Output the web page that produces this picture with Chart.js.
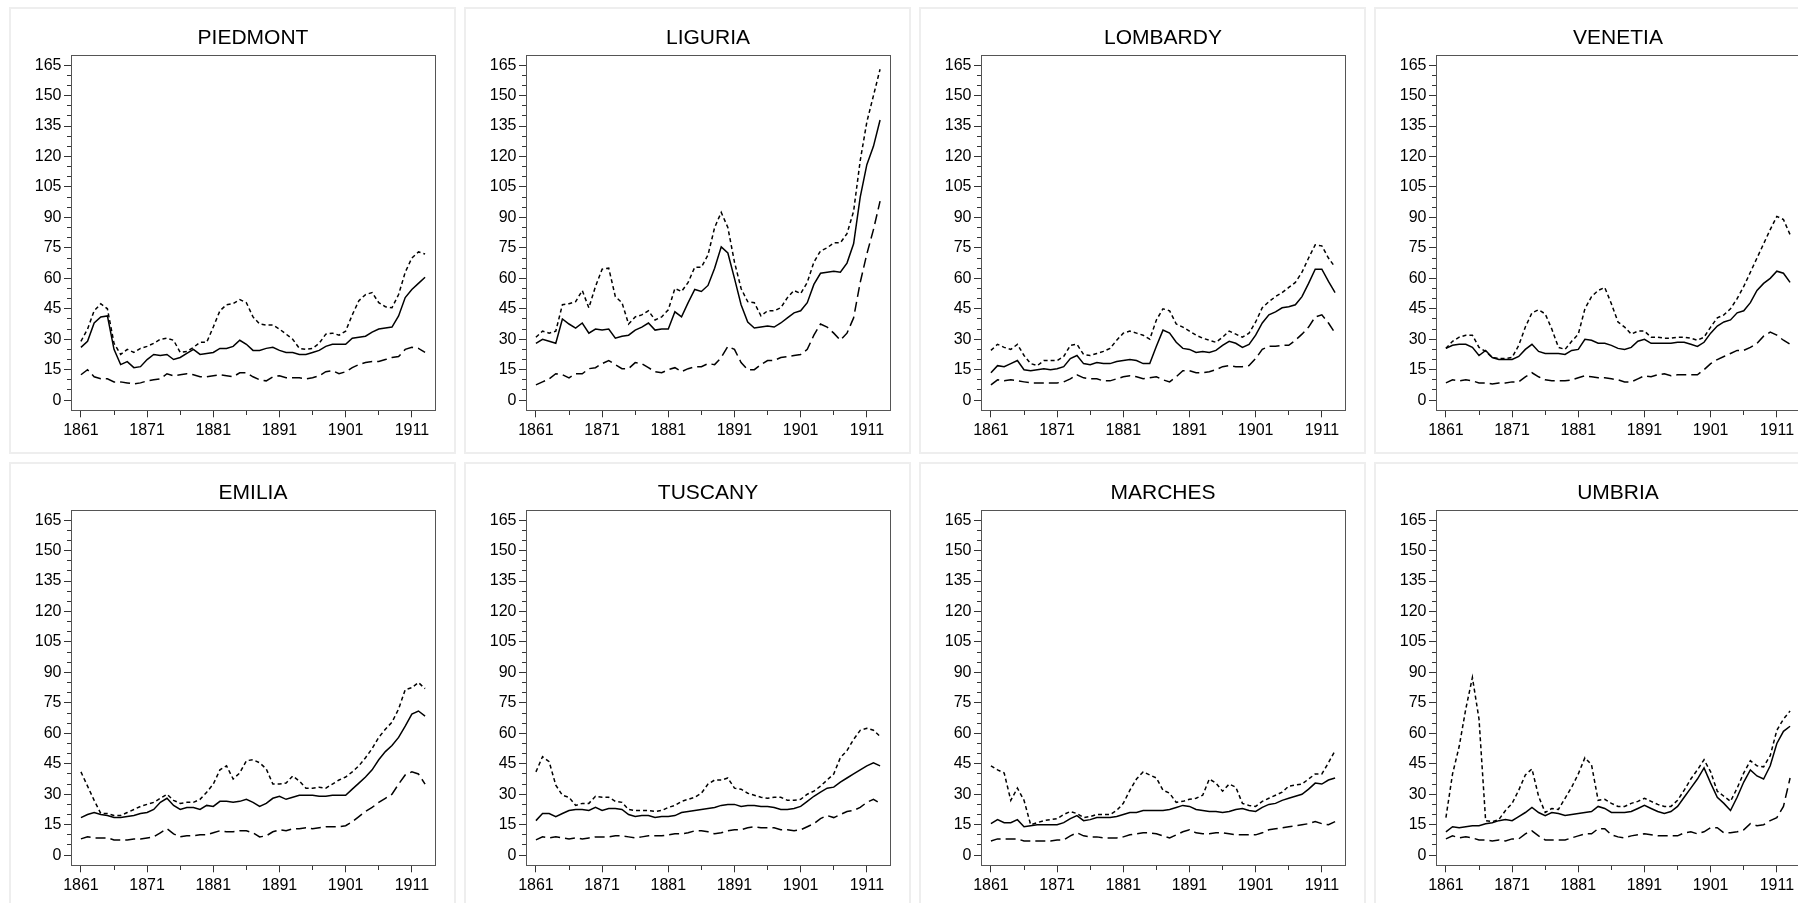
<!DOCTYPE html>
<html>
<head>
<meta charset="utf-8">
<title>Regional series 1861-1913</title>
<script src="https://cdn.jsdelivr.net/npm/chart.js@4/dist/chart.umd.min.js"></script>
<style>
  html, body { margin: 0; background: #fff; overflow: hidden; width: 1798px; height: 903px; }
  .card { position: absolute; width: 447px; height: 447px; box-sizing: border-box;
          border: 2px solid #eeeeee; background: #fff; }
  .card canvas { display: block; }
</style>
</head>
<body>
<div id="grid"></div>
<script>
// years on the x axis
const years = [
  1861, 1862, 1863, 1864, 1865, 1866, 1867, 1868, 1869, 1870,
  1871, 1872, 1873, 1874, 1875, 1876, 1877, 1878, 1879, 1880,
  1881, 1882, 1883, 1884, 1885, 1886, 1887, 1888, 1889, 1890,
  1891, 1892, 1893, 1894, 1895, 1896, 1897, 1898, 1899, 1900,
  1901, 1902, 1903, 1904, 1905, 1906, 1907, 1908, 1909, 1910,
  1911, 1912, 1913
];

// tick labels and minor tick positions
const xLabelYears = [1861, 1871, 1881, 1891, 1901, 1911];
const xMinorYears = [1866, 1876, 1886, 1896, 1906];
const yLabelValues = [0, 15, 30, 45, 60, 75, 90, 105, 120, 135, 150, 165];
const yMinorValues = [5, 10, 20, 25, 35, 40, 50, 55, 65, 70, 80, 85, 95, 100,
                      110, 115, 125, 130, 140, 145, 155, 160];

// --- series (solid / short dash / long dash) ---
const piedmontSolid = [26, 29, 38, 41, 41.5, 25, 17.5, 19, 16, 16.5,
  20, 22.5, 22, 22.5, 20, 21, 23, 25, 22.5, 23,
  23.5, 25.5, 25.5, 26.5, 29.5, 27.5, 24.5, 24.5, 25.5, 26,
  24.5, 23.5, 23.5, 22.5, 22.5, 23.5, 24.5, 26.5, 27.5, 27.5,
  27.5, 30.5, 31, 31.5, 33.5, 35, 35.5, 36, 41.5, 50.5,
  54.5, 57.5, 60.5];
const piedmontShort = [29, 35, 44, 47.5, 45, 28, 22.5, 25, 23.5, 25.5,
  26.5, 28, 30, 30.5, 29.5, 23.5, 24, 26, 28.5, 28.5,
  36, 44, 47, 47.5, 49.5, 48, 41, 37.5, 37, 37,
  35, 32.5, 30, 25.5, 25, 25.5, 28, 32.5, 33, 32,
  34, 42, 49, 52, 53, 48, 46, 45.5, 52, 63,
  70, 73, 72];
const piedmontLong = [12.5, 15, 11.5, 10.5, 10.5, 9, 9, 8.5, 8, 8.5,
  9.5, 10, 10.5, 13, 12, 12.5, 13, 12.5, 11.5, 11.5,
  12, 12.5, 12, 11.5, 13.5, 13.5, 11.5, 10, 9.5, 11.5,
  12, 11, 11, 11, 10.5, 11, 12, 14, 14.5, 13,
  14, 16, 17.5, 18.5, 19, 19, 20, 21, 21.5, 25,
  26, 25.5, 23.5];

const liguriaSolid = [28, 30, 29, 28, 40, 37.5, 35.5, 38, 33, 35,
  34.5, 35, 30.5, 31.5, 32, 34.5, 36, 38, 34.5, 35,
  35, 43.5, 41, 48, 54.5, 53.5, 56.5, 65, 75.5, 72.5,
  60, 47, 38.5, 35.5, 36, 36.5, 36, 38, 40.5, 43,
  44, 48, 57, 62.5, 63, 63.5, 63, 67.5, 77, 100,
  116, 125, 138];
const liguriaShort = [31, 34, 33, 34, 47, 47.5, 48.5, 54, 45.5, 56,
  64.5, 65, 51, 48, 37.5, 41, 42, 44, 39.5, 41,
  44.5, 55, 53.5, 58, 65.5, 65.5, 71.5, 85, 92.5, 85,
  68, 55, 48.5, 48, 41.5, 44, 44, 45.5, 50.5, 54,
  52.5, 58, 68, 73.5, 75, 77.5, 77.5, 82, 93, 118,
  137, 150, 163];
const liguriaLong = [7.5, 9, 10.5, 13, 12.5, 11, 13, 13, 15.5, 16,
  18, 19.5, 17.5, 15.5, 15.5, 18.5, 18, 16, 14, 13.5,
  15, 16, 14, 15.5, 16.5, 16.5, 18, 17.5, 21, 26.5,
  25, 18.5, 15, 15, 17.5, 19.5, 19.5, 21, 21.5, 22,
  22.5, 25, 32, 37.5, 36, 33, 29.5, 33, 40.5, 58,
  72, 84, 98];

const lombardySolid = [13.5, 17, 16.5, 18, 19.5, 15, 14.5, 15, 15.5, 15,
  15.5, 16.5, 20.5, 22, 18, 17.5, 18.5, 18, 18, 19,
  19.5, 20, 19.5, 18, 18, 26.5, 34.5, 33, 28.5, 25.5,
  25, 23.5, 24, 23.5, 24.5, 27, 29, 28, 26, 27.5,
  32, 38, 42, 43.5, 45.5, 46, 47, 51, 57.5, 64.5,
  64.5, 58.5, 53];
const lombardyShort = [24.5, 27.5, 26, 25, 27.5, 22, 18, 17, 19.5, 19.5,
  19.5, 21.5, 27, 27.5, 22.5, 22, 23, 24, 25.5, 29.5,
  33, 34, 33, 32, 30, 39.5, 45, 44, 37.5, 36,
  34, 32, 30.5, 29.5, 28.5, 31, 34, 32.5, 31, 33,
  38.5, 45.5, 48.5, 51, 53, 55.5, 58, 63, 70, 76.5,
  76, 70, 65.5];
const lombardyLong = [7.5, 10, 9.5, 10, 9.5, 9, 8.5, 8.5, 8.5, 8.5,
  8.5, 9, 10.5, 12.5, 11, 10.5, 10.5, 9.5, 9.5, 10.5,
  11.5, 12, 11.5, 10.5, 11, 11.5, 10, 9, 11.5, 14.5,
  14.5, 13.5, 13.5, 14, 15, 16.5, 17, 16.5, 16.5, 17,
  20.5, 25, 26.5, 26.5, 27, 27, 29.5, 32.5, 36, 41,
  42, 38, 33];

const venetiaSolid = [25.5, 27, 27.5, 27.5, 26, 22, 24.5, 21, 20, 20,
  20, 21.5, 25, 27.5, 24, 23, 23, 23, 22.5, 24.5,
  25, 30, 29.5, 28, 28, 27, 25.5, 25, 26, 29,
  30, 28, 28, 28, 28, 28.5, 28.5, 27.5, 26.5, 28.5,
  33, 36.5, 38.5, 39.5, 43, 44, 48, 54, 57.5, 60,
  63.5, 62.5, 58];
const venetiaShort = [25.5, 29, 31, 32, 32, 26, 24, 21, 20.5, 20.5,
  21, 27, 36, 43, 44.5, 42.5, 35, 26, 25, 29,
  32.5, 45, 51, 54, 55.5, 47.5, 38.5, 36, 32.5, 34,
  34, 31, 31, 30.5, 30.5, 31, 31, 30.5, 29.5, 31,
  36, 40.5, 42, 45, 50, 56, 63, 70, 77, 84,
  90.5, 89, 81.5];
const venetiaLong = [8.5, 10, 9.5, 10, 9.5, 8.5, 8.5, 8, 8.5, 8.5,
  9, 9, 11.5, 13.5, 11.5, 10, 9.5, 9.5, 9.5, 10,
  11, 12, 11.5, 11, 11, 10.5, 10, 9, 9, 10.5,
  12, 11.5, 12.5, 13, 12, 12.5, 12.5, 12.5, 12.5, 15,
  18, 20, 21.5, 23, 24.5, 24.5, 26, 28, 31.5, 33.5,
  32, 29.5, 27.5];

const emiliaSolid = [18.5, 20, 21, 20, 19.5, 18.5, 18.5, 19, 19.5, 20.5,
  21, 22.5, 26, 28, 24.5, 22.5, 23.5, 23.5, 22.5, 24.5,
  24, 26.5, 26.5, 26, 26.5, 27.5, 26, 24, 25.5, 28,
  29, 27.5, 28.5, 29.5, 29.5, 29.5, 29, 29, 29.5, 29.5,
  29.5, 32.5, 35.5, 38.5, 42, 47, 51, 54, 58, 63.5,
  69.5, 71, 68.5];
const emiliaShort = [41, 34, 27, 20.5, 20.5, 19.5, 19.5, 21, 22.5, 24,
  25, 26, 28, 30, 27, 25.5, 26, 26, 27.5, 31,
  35, 42, 44, 37.5, 40.5, 46.5, 47, 45.5, 42.5, 35,
  35, 35.5, 39, 36.5, 33, 33, 33.5, 33, 35, 37,
  38.5, 41, 44, 48, 52.5, 58, 62, 65.5, 72, 81.5,
  82.5, 85, 82];
const emiliaLong = [8, 9, 8.5, 8.5, 8.5, 7.5, 7.5, 7.5, 8, 8,
  8.5, 9, 11, 13, 10.5, 9, 9.5, 9.5, 10, 10,
  11, 12, 11.5, 11.5, 12, 12, 11, 9, 9.5, 11.5,
  12.5, 12, 13, 13, 13.5, 13, 13.5, 14, 14, 14,
  14.5, 16.5, 19, 21.5, 23.5, 26, 28, 30, 35, 39.5,
  41, 40, 35];

const tuscanySolid = [17, 20.5, 20.5, 19, 20.5, 22, 22.5, 22.5, 22, 23.5,
  22, 23, 23, 22.5, 20, 19, 19.5, 19.5, 18.5, 19,
  19, 19.5, 21, 21.5, 22, 22.5, 23, 23.5, 24.5, 25,
  25, 24, 24.5, 24.5, 24, 24, 23.5, 22.5, 22.5, 23,
  24, 26.5, 29, 31, 33, 33.5, 36, 38, 40, 42,
  44, 45.5, 44];
const tuscanyShort = [41, 48.5, 46, 34.5, 29.5, 28.5, 24.5, 25.5, 25.5, 29,
  28.5, 28.5, 26.5, 26, 22.5, 22, 22, 22, 21.5, 22,
  23.5, 24.5, 26.5, 27.5, 28.5, 30.5, 35, 37, 37, 38,
  33, 32.5, 30.5, 29.5, 28.5, 28, 28.5, 28.5, 27, 27,
  27.5, 30, 31.5, 34, 37, 40, 48, 51.5, 57, 61.5,
  62.5, 61.5, 58.5];
const tuscanyLong = [7.5, 9, 8.5, 9, 8.5, 8, 8.5, 8, 8.5, 9,
  9, 9, 9.5, 9.5, 9, 8.5, 9, 9.5, 9.5, 9.5,
  10, 10.5, 10.5, 11, 12, 12, 11.5, 10.5, 11, 12,
  12.5, 12.5, 13.5, 14, 13.5, 13.5, 13.5, 12.5, 12.5, 12,
  12.5, 14, 15.5, 18, 19.5, 18.5, 20, 21.5, 22, 23.5,
  26, 27.5, 25.5];

const marchesSolid = [15.5, 17.5, 16, 16, 17.5, 14, 14.5, 15, 15, 15,
  15, 16, 18, 19.5, 17, 17.5, 18.5, 18.5, 18.5, 19,
  20, 21, 21, 22, 22, 22, 22, 22.5, 23.5, 24.5,
  24, 22.5, 22, 21.5, 21.5, 21, 21.5, 22.5, 23, 22,
  21.5, 23.5, 25, 25.5, 27, 28, 29, 30, 32.5, 35.5,
  35, 37, 38];
const marchesShort = [44, 42, 40.5, 27, 33, 27, 15, 16, 17, 17.5,
  18, 20, 21.5, 20.5, 18.5, 19, 20, 20, 20, 22,
  25.5, 32, 37.5, 41, 39.5, 38, 32, 30.5, 26, 26.5,
  27.5, 28, 29.5, 37.5, 35.5, 31.5, 35, 33.5, 25.5, 24.5,
  24, 26.5, 28, 29.5, 31, 34, 34.5, 35, 37.5, 40,
  40, 45.5, 51.5];
const marchesLong = [7, 8, 8, 8, 8, 7, 7, 7, 7, 7,
  7.5, 7.5, 9.5, 11, 9.5, 9, 9, 8.5, 8.5, 8.5,
  9, 10, 10.5, 11, 11, 10.5, 9.5, 8.5, 10, 11.5,
  12.5, 11, 10.5, 10.5, 11, 11, 10.5, 10, 10, 10,
  10, 11, 12.5, 13, 13.5, 14, 14.5, 15, 15.5, 16.5,
  15.5, 15, 16.5];

const umbriaSolid = [11.5, 14, 13.5, 14, 14.5, 14.5, 15.5, 16, 17, 17.5,
  17, 19, 21, 23.5, 21, 19.5, 21, 20.5, 19.5, 20,
  20.5, 21, 21.5, 24, 23, 21, 21, 21, 21.5, 23,
  24.5, 23, 21.5, 20.5, 21.5, 24, 28.5, 33, 37.5, 43,
  35.5, 28.5, 25.5, 22, 28.5, 36, 42, 39, 37.5, 44,
  55, 61, 63.5];
const umbriaShort = [18.5, 40, 53.5, 72, 87.5, 67, 17, 16.5, 17.5, 22,
  25.5, 32, 39.5, 42.5, 29, 21, 23, 22.5, 28, 33.5,
  40, 48, 44.5, 27, 27.5, 25.5, 24, 24, 25.5, 26.5,
  28, 26.5, 25, 24, 24, 27, 32, 37.5, 42, 47,
  41, 31.5, 29, 26.5, 33, 40.5, 46.5, 44, 43.5, 49,
  61.5, 67, 71];
const umbriaLong = [8, 9.5, 8.5, 9, 8.5, 7.5, 7.5, 7, 7.5, 7,
  8, 8, 10.5, 12, 9.5, 7.5, 7.5, 7.5, 7.5, 8.5,
  9.5, 10.5, 10.5, 13, 13, 10, 9, 8.5, 9.5, 10,
  10.5, 10, 9.5, 9.5, 9.5, 9.5, 11, 11.5, 10.5, 11.5,
  13.5, 13.5, 11, 11, 11.5, 12.5, 15.5, 14.5, 15, 17,
  18.5, 24, 38];

const panels = [
  ["PIEDMONT", piedmontSolid, piedmontShort, piedmontLong],
  ["LIGURIA", liguriaSolid, liguriaShort, liguriaLong],
  ["LOMBARDY", lombardySolid, lombardyShort, lombardyLong],
  ["VENETIA", venetiaSolid, venetiaShort, venetiaLong],
  ["EMILIA", emiliaSolid, emiliaShort, emiliaLong],
  ["TUSCANY", tuscanySolid, tuscanyShort, tuscanyLong],
  ["MARCHES", marchesSolid, marchesShort, marchesLong],
  ["UMBRIA", umbriaSolid, umbriaShort, umbriaLong],
];

const FONT = "'Liberation Sans', Arial, Helvetica, sans-serif";
Chart.defaults.font.family = FONT;

const xTicksAll = xLabelYears.concat(xMinorYears).sort((a, b) => a - b);
const yTicksAll = yLabelValues.concat(yMinorValues).sort((a, b) => a - b);

function pts(vals) {
  return years.map((yr, i) => ({ x: yr, y: vals[i] }));
}

function line(label, vals, dash) {
  return {
    label, data: pts(vals), borderColor: "#000", borderWidth: 1.5,
    borderDash: dash, pointRadius: 0, tension: 0, fill: false,
  };
}

function makeChart(canvas, name, solid, shortDash, longDash) {
  new Chart(canvas, {
    type: "line",
    data: {
      datasets: [
        line("solid", solid, []),
        line("short dash", shortDash, [4, 3]),
        line("long dash", longDash, [10, 5]),
      ],
    },
    options: {
      responsive: false,
      animation: false,
      events: [],
      layout: { padding: { left: 0, right: 19, top: 0, bottom: 0 } },
      plugins: {
        legend: { display: false },
        tooltip: { enabled: false },
        title: {
          display: true, text: name, fullSize: false, color: "#000",
          font: { size: 21, weight: "normal" },
          padding: { top: 16.2, bottom: 4.6 },
        },
      },
      scales: {
        x: {
          type: "linear", position: "bottom", min: 1859.5, max: 1914.5,
          afterBuildTicks: (s) => { s.ticks = xTicksAll.map((v) => ({ value: v })); },
          afterFit: (s) => { s.height = 41.7; },
          ticks: {
            autoSkip: false, maxRotation: 0, padding: 4, color: "#000",
            font: { size: 16 },
            callback: (v) => (xLabelYears.includes(v) ? String(v) : ""),
          },
          grid: {
            drawOnChartArea: false, tickLength: 7, color: "#333",
            // minor ticks: only the inner 4px of the tick line is drawn
            tickBorderDash: (ctx) => (xLabelYears.includes(ctx.tick.value) ? [] : [4, 10]),
          },
          border: { color: "#555", width: 1 },
        },
        y: {
          type: "linear", position: "left", min: -5, max: 170,
          afterBuildTicks: (s) => { s.ticks = yTicksAll.map((v) => ({ value: v })); },
          afterFit: (s) => { s.width = 60; },
          ticks: {
            autoSkip: false, padding: 2.5, color: "#000",
            font: { size: 16 },
            callback: (v) => (yLabelValues.includes(v) ? String(v) : ""),
          },
          grid: {
            drawOnChartArea: false, tickLength: 7, color: "#333",
            tickBorderDash: (ctx) => (yLabelValues.includes(ctx.tick.value) ? [] : [4, 3]),
            tickBorderDashOffset: (ctx) => (yLabelValues.includes(ctx.tick.value) ? 0 : 4),
          },
          border: { color: "#555", width: 1 },
        },
        // top and right edges of the plot box
        xTop: {
          type: "linear", position: "top", min: 1859.5, max: 1914.5,
          afterFit: (s) => { s.height = 0; },
          ticks: { display: false }, grid: { display: false, drawTicks: false },
          border: { display: true, color: "#555", width: 1 },
        },
        yRight: {
          type: "linear", position: "right", min: -5, max: 170,
          afterFit: (s) => { s.width = 0; },
          ticks: { display: false }, grid: { display: false, drawTicks: false },
          border: { display: true, color: "#555", width: 1 },
        },
      },
    },
  });
}

const grid = document.getElementById("grid");
panels.forEach((p, i) => {
  const col = i % 4, row = Math.floor(i / 4);
  const card = document.createElement("div");
  card.className = "card";
  card.style.left = (9 + col * 455) + "px";
  card.style.top = (7 + row * 455) + "px";
  const cv = document.createElement("canvas");
  cv.width = 443; cv.height = 443;
  card.appendChild(cv);
  grid.appendChild(card);
  makeChart(cv, p[0], p[1], p[2], p[3]);
});
</script>
</body>
</html>
